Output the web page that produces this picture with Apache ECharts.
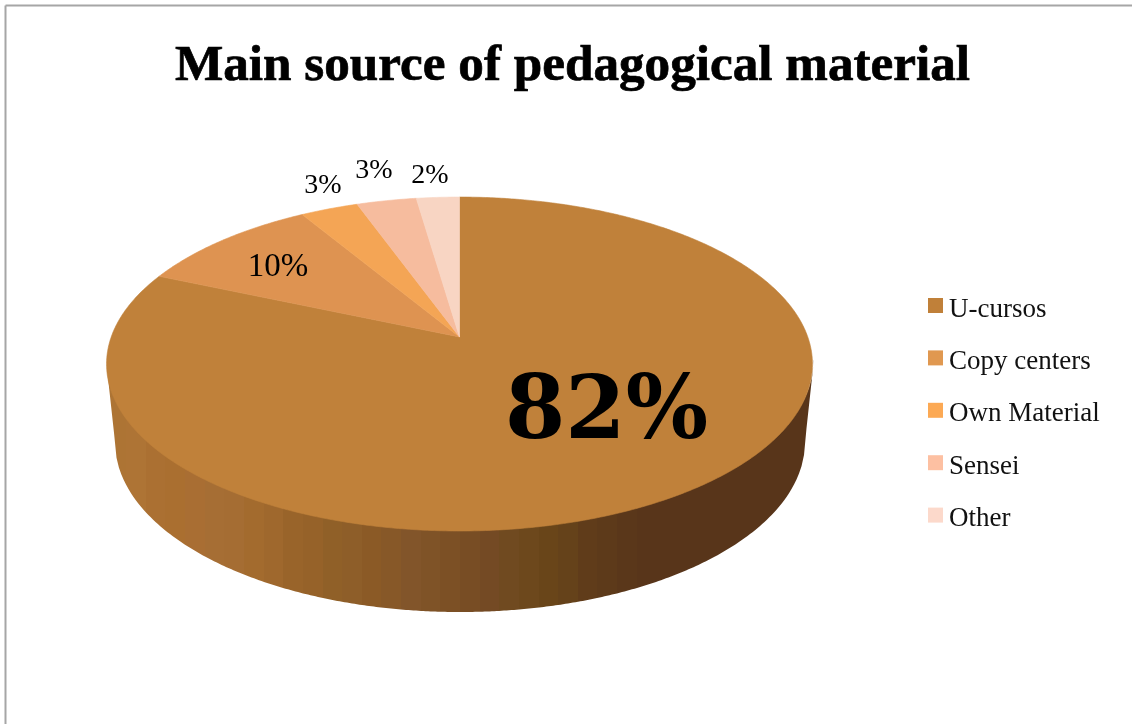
<!DOCTYPE html>
<html><head><meta charset="utf-8">
<style>html,body{margin:0;padding:0;background:#fff}#c{width:1132px;height:724px}</style>
<script src="https://cdn.jsdelivr.net/npm/echarts@6/dist/echarts.min.js"></script>
</head><body><div id="c"></div>
<script>
const chartTitle = 'Main source of pedagogical material';
const categories = ['U-cursos', 'Copy centers', 'Own Material', 'Sensei', 'Other'];
const shares = [81.5, 9.9, 3.1, 3.2, 2.3];
const sliceColors = ['#C0813A', '#DE9351', '#F4A555', '#F6BC9E', '#F8D5C3'];
const legendColors = ['#C08039', '#E09850', '#FCA954', '#FDC0A2', '#FCD9CB'];
const sideShades = ['#AD7434','#AE7435','#AB7032','#AA6F30','#A96E33','#A66E34','#A56D33','#A36B2E','#9F682D','#99642A','#966229','#906028','#8E5E29','#8B5A26','#875828','#82552A','#7F5327','#7C5025','#784D24','#744A24','#704A20','#6D481C','#694519','#65421A','#603C1A','#5D3A1A','#5A371A','#58351A','#58351A','#58351A','#58351A','#58351A','#58351A','#58351A','#58351A','#58351A'];

const FONT = '"Liberation Serif", serif';
const total = shares.reduce((a, b) => a + b, 0);
const starts = shares.map((_, i) => shares.slice(0, i).reduce((a, b) => a + b, 0) / total * 360);

// perspective view of the disc: apex, width, height, foreshortening
const view = { ax: 459.5, ay: 337, bx: 348.3, by: 162.6, k: 0.1618 };
const topEdge = { cx: 460, cy: 364, rx: 353.5, ry: 167 };
const floorEdge = { cx: 460, cy: 442, rx: 345, ry: 170 };
const labelSpots = [
  { x: 606.5, y: 415, size: 88, weight: 'bold', stretch: 0.985, family: '"DejaVu Serif", serif' },
  { x: 278, y: 267, size: 33, weight: 'normal', stretch: 1, family: FONT },
  { x: 323, y: 186, size: 28, weight: 'normal', stretch: 1, family: FONT },
  { x: 374, y: 171, size: 28, weight: 'normal', stretch: 1, family: FONT },
  { x: 430, y: 176, size: 28, weight: 'normal', stretch: 1, family: FONT }
];
function project(deg) {
  const a = deg * Math.PI / 180, x = Math.sin(a), y = Math.cos(a), w = 1 + view.k * y;
  return [view.ax + view.bx * x / w, view.ay - view.by * y / w];
}
function lowerY(e, x) {
  const d = (x - e.cx) / e.rx;
  return e.cy + e.ry * Math.sqrt(Math.max(0, 1 - d * d));
}
function floorY(x) {
  const l = floorEdge.cx - floorEdge.rx, r = floorEdge.cx + floorEdge.rx;
  const xl = topEdge.cx - topEdge.rx, xr = topEdge.cx + topEdge.rx;
  if (x < l) return topEdge.cy + (floorEdge.cy - topEdge.cy) * (x - xl) / (l - xl);
  if (x > r) return topEdge.cy + (floorEdge.cy - topEdge.cy) * (xr - x) / (xr - r);
  return lowerY(floorEdge, x);
}
const sliceSeries = categories.map((name, i) => ({
  type: 'custom', name, coordinateSystem: 'none', z: 3,
  itemStyle: { color: sliceColors[i] },
  data: [shares[i]],
  renderItem(params, api) {
    const from = starts[i], to = from + api.value(0) / total * 360;
    const pts = [[view.ax, view.ay]];
    const n = Math.max(4, Math.ceil((to - from) * 2));
    for (let s = 0; s <= n; s++) pts.push(project(from + (to - from) * s / n));
    const spot = labelSpots[i];
    return { type: 'group', children: [
      { type: 'polygon', shape: { points: pts }, style: { fill: sliceColors[i], stroke: sliceColors[i], lineWidth: 0.6 } },
      { type: 'text', z2: 10, x: spot.x, y: spot.y, scaleX: spot.stretch, style: { x: 0, y: 0, text: Math.round(api.value(0)) + '%', fill: '#000',
        font: spot.weight + ' ' + spot.size + 'px ' + spot.family, textAlign: 'center', textVerticalAlign: 'middle' } }
    ] };
  }
}));
const sideSeries = {
  type: 'custom', name: 'Side', coordinateSystem: 'none', z: 2, silent: true,
  data: sideShades.map((c, i) => [i]),
  renderItem(params) {
    const i = params.dataIndex, n = sideShades.length;
    const xl = topEdge.cx - topEdge.rx, span = 2 * topEdge.rx;
    const xA = Math.round(xl + span * i / n), xB = Math.round(xl + span * (i + 1) / n);
    const pts = [], m = 8;
    for (let s = 0; s <= m; s++) { const x = xA + (xB - xA) * s / m; pts.push([x, lowerY(topEdge, x) - 3]); }
    for (let s = m; s >= 0; s--) { const x = xA + (xB - xA) * s / m; pts.push([x, floorY(x)]); }
    return { type: 'polygon', shape: { points: pts }, style: { fill: sideShades[i] } };
  }
};
const chart = echarts.init(document.getElementById('c'), null, { renderer: 'canvas' });
chart.setOption({
  animation: false,
  backgroundColor: '#fff',
  title: { text: chartTitle, left: 567.5, top: 36, textAlign: 'center',
    textStyle: { fontFamily: FONT, fontWeight: 'bold', fontSize: 51.2, color: '#000', textBorderColor: '#000', textBorderWidth: 0.7 } },
  legend: { orient: 'vertical', left: 923, top: 291, itemWidth: 15, itemHeight: 15, itemGap: 25.4, icon: 'rect',
    selectedMode: false,
    data: categories.map((name, i) => ({ name, itemStyle: { color: legendColors[i] } })),
    formatter: '{t|{name}}',
    textStyle: { rich: { t: { fontFamily: FONT, fontSize: 27, color: '#111', padding: [8, 0, 0, 1] } } } },
  graphic: [
    { type: 'line', shape: { x1: 5.5, y1: 5.5, x2: 1132, y2: 5.5 }, style: { stroke: '#a6a6a6', lineWidth: 2 } },
    { type: 'line', shape: { x1: 5.5, y1: 5.5, x2: 5.5, y2: 724 }, style: { stroke: '#a6a6a6', lineWidth: 2 } }
  ],
  series: [sideSeries].concat(sliceSeries)
});
</script></body></html>
